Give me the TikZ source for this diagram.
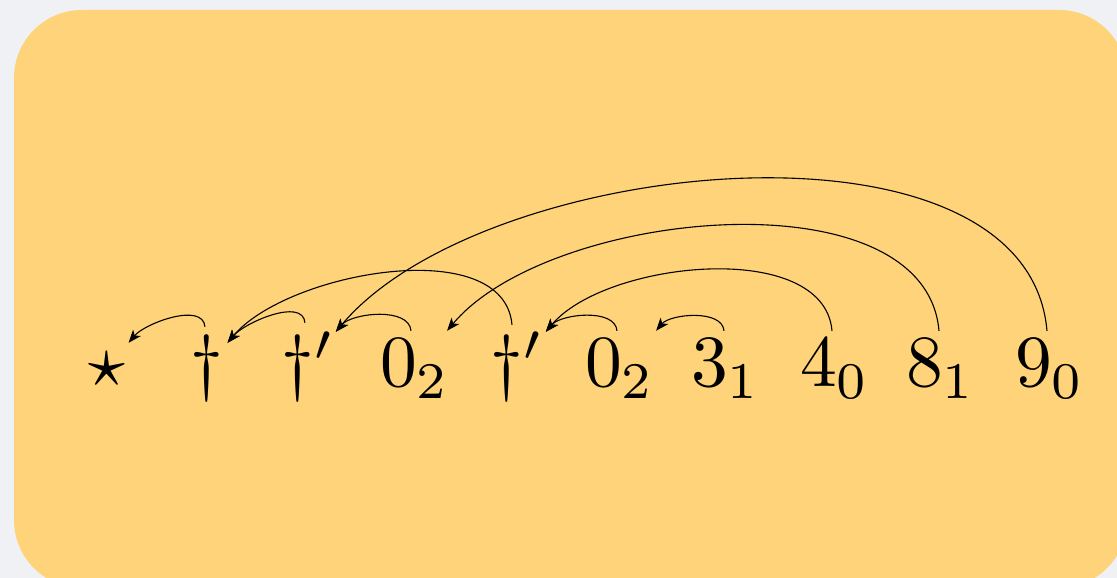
\documentclass[tikz,border=0pt]{standalone}
\usepackage{graphicx}
\usetikzlibrary{arrows.meta}
\definecolor{pagebg}{HTML}{EFF1F5}
\definecolor{card}{HTML}{FED379}
\newcommand{\bigw}[1]{\scalebox{7.35}{$#1$}}
\begin{document}
\begin{tikzpicture}[x=1pt,y=1pt,
  word/.style={anchor=base, inner xsep=6pt, inner ysep=0pt, text height=56pt, text depth=0pt},
  dep/.style={-{Stealth[length=13pt,width=10pt,inset=3.5pt]}, line width=1.1pt, out=95, in=50, looseness=0.83}]
\useasboundingbox (0,0) rectangle (1117,578);
\fill[pagebg] (0,0) rectangle (1117,578);
\fill[card, rounded corners=68pt] (14,-10) rectangle (1127,568);

\node[word] (s0) at (107,191) {\bigw{\star}};
\node[word] (s1) at (207,191) {\bigw{\dagger}};
\node[word] (s2) at (308,191) {\bigw{\dagger'}};
\node[word] (s3) at (415,191) {\bigw{0_2}};
\node[word] (s4) at (517,191) {\bigw{\dagger'}};
\node[word] (s5) at (620,191) {\bigw{0_2}};
\node[word] (s6) at (726,191) {\bigw{3_1}};
\node[word] (s7) at (835,191) {\bigw{4_0}};
\node[word] (s8) at (941,191) {\bigw{8_1}};
\node[word] (s9) at (1050,191) {\bigw{9_0}};

\draw[dep] ([xshift=-2pt,yshift=4pt]s1.north) to ([xshift=-3pt,yshift=-12pt]s0.north east);
\draw[dep] ([xshift=-3pt,yshift=8pt]s2.north) to ([xshift=-2pt,yshift=-12pt]s1.north east);
\draw[dep] ([xshift=-4pt]s3.north) to ([xshift=-5pt,yshift=-1pt]s2.north east);
\draw[dep] ([xshift=-5pt,yshift=6pt]s4.north) to ([xshift=-2pt,yshift=-12pt]s1.north east);
\draw[dep] ([xshift=-3pt]s5.north) to ([xshift=-4pt,yshift=-1pt]s4.north east);
\draw[dep] ([xshift=-2pt]s6.north) to ([xshift=-5pt]s5.north east);
\draw[dep] ([xshift=-3pt]s7.north) to ([xshift=-4pt,yshift=-1pt]s4.north east);
\draw[dep] ([xshift=-2pt]s8.north) to ([xshift=-9pt]s3.north east);
\draw[dep] ([xshift=-3pt]s9.north) to ([xshift=-5pt,yshift=-1pt]s2.north east);
\end{tikzpicture}
\end{document}
